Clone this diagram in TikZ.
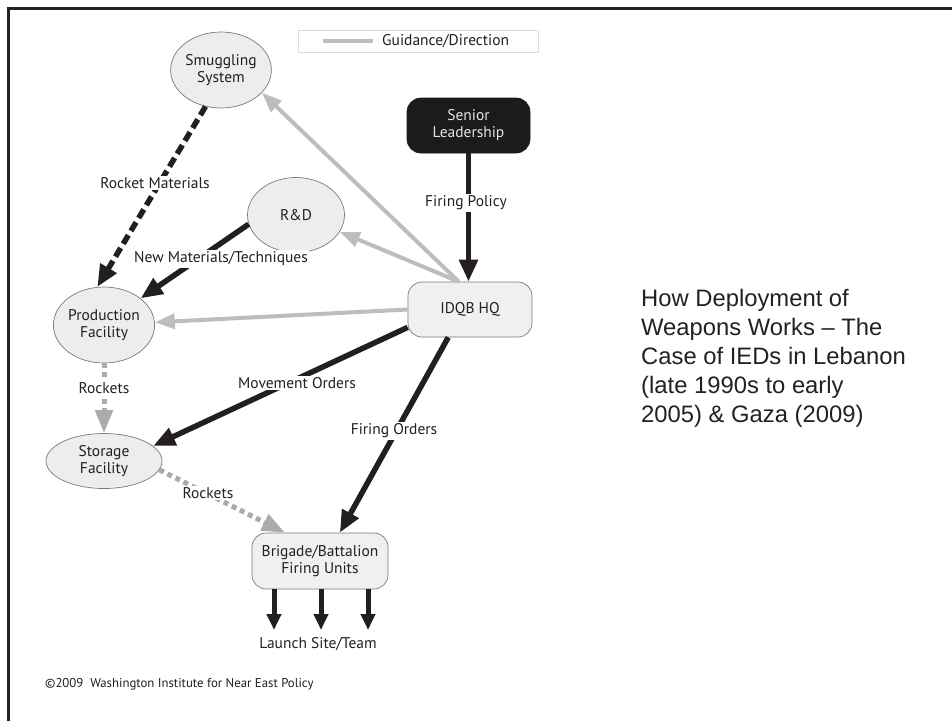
\documentclass[tikz,border=0pt]{standalone}
\usepackage{fontspec}
\setmainfont{PT Sans}
\newfontfamily\titlefont{Liberation Sans}
\usetikzlibrary{arrows.meta,shapes.geometric}
\definecolor{ink}{HTML}{231F20}
\definecolor{guide}{HTML}{BDBDBD}
\definecolor{rock}{HTML}{ABABAB}
\definecolor{ellfill}{HTML}{EDEDED}
\definecolor{boxfill}{HTML}{F0F0F2}
\definecolor{edgegray}{HTML}{7A7A7A}
\definecolor{seniorfill}{HTML}{1B1B1B}
\definecolor{seniortext}{HTML}{E6E6E6}
\definecolor{legborder}{HTML}{DCDCDC}
\definecolor{frame}{HTML}{222222}
\begin{document}
\begin{tikzpicture}[x=1pt,y=-1pt,
  every node/.style={font=\fontsize{15.5}{17}\selectfont, text=ink, align=center},
  oval/.style={ellipse, draw=edgegray, line width=0.7pt, fill=ellfill, inner sep=0pt},
  rbox/.style={rectangle, rounded corners=14pt, draw=edgegray, line width=0.7pt, fill=boxfill, inner sep=0pt},
  blk/.style={line width=5.5pt, draw=ink, -{Triangle[length=22pt,width=18pt]}},
  blkdash/.style={blk, dash pattern=on 10pt off 5pt},
  guideline/.style={line width=4pt, draw=guide, -{Triangle[length=20pt,width=15pt]}},
  guideplain/.style={line width=4.5pt, draw=guide},
  rockdash/.style={line width=5pt, draw=rock, dash pattern=on 5pt off 4pt, -{Triangle[length=23pt,width=17pt]}},
  lbl/.style={fill=white, inner sep=1.5pt},
  launch/.style={line width=5pt, draw=ink, -{Triangle[length=16pt,width=14pt]}}
]
\useasboundingbox (0,0) rectangle (952,721);
\fill[white] (0,0) rectangle (952,721);
% frame
\coordinate (f1) at (8,721);
\coordinate (f2) at (8,8);
\coordinate (f3) at (952,8);
\draw[frame, line width=3pt] (f1) -- (f2) -- (f3);

% legend
\node[rectangle, draw=legborder, line width=0.8pt, fill=white, minimum width=240pt, minimum height=22pt] (legend) at (418,41) {};
\coordinate (lg1) at (323,41);
\coordinate (lg2) at (373,41);
\draw[guideplain] (lg1) -- (lg2);
\node[anchor=west, inner sep=0pt] (lgtext) at (382,41.5) {Guidance/Direction};

% nodes
\node[oval, minimum width=98pt, minimum height=76pt] (smug) at (221,70) {Smuggling\\System};
\node[oval, minimum width=97pt, minimum height=75pt] (rd) at (296,215) {R\&D};
\node[oval, minimum width=98pt, minimum height=76pt] (prod) at (104,325) {Production\\Facility};
\node[oval, minimum width=116pt, minimum height=55pt] (stor) at (104,461) {Storage\\Facility};
\node[rbox, fill=seniorfill, draw=seniorfill, text=seniortext, minimum width=123pt, minimum height=55pt] (senior) at (468.5,125.5) {Senior\\Leadership};
\node[rbox, minimum width=124pt, minimum height=55pt] (idqb) at (470,309.5) {IDQB HQ};
\node[rbox, minimum width=136pt, minimum height=56pt] (brig) at (320,561) {Brigade/Battalion\\Firing Units};

% connectors
\draw[blkdash] (smug.247) -- (prod.100);
\draw[blk] (rd.191) -- (prod.36);
\draw[guideline] (idqb.112) -- (smug.331);
\draw[guideline] (idqb.112) -- (rd.339);
\draw[guideline] (idqb.west) -- (prod.3);
\draw[blk] (senior.south) -- (senior.south |- idqb.north);
\draw[blk] (idqb.196) -- (stor.17);
\draw[blk] (idqb.232) -- (brig.55);
\draw[rockdash] (prod.south) -- (stor.north);
\draw[rockdash] (stor.351) -- (brig.141);

\coordinate (l1) at (274,630);
\coordinate (l2) at (321,630);
\coordinate (l3) at (368,630);
\draw[launch] (l1 |- brig.south) -- (l1);
\draw[launch] (l2 |- brig.south) -- (l2);
\draw[launch] (l3 |- brig.south) -- (l3);

% connector labels
\node[lbl] (lrm) at (155,183) {Rocket Materials};
\node[lbl] (lnm) at (221,259) {New Materials/Techniques};
\node[lbl] (lfp) at (466,203) {Firing Policy};
\node[lbl] (lmo) at (297,383) {Movement Orders};
\node[lbl] (lfo) at (394,431) {Firing Orders};
\node[lbl] (lr1) at (104,388) {Rockets};
\node[lbl] (lr2) at (208,493) {Rockets};
\node[inner sep=0pt] (lst) at (318,644) {Launch Site/Team};

% title
\node[anchor=north west, align=left, inner sep=0pt, text=frame,
  font=\titlefont\fontsize{23.8}{29}\selectfont] (title) at (641,289)
  {How Deployment of\\Weapons Works \textendash{} The\\Case of IEDs in Lebanon\\(late 1990s to early\\2005) \& Gaza (2009)};

% copyright
\node[anchor=west, inner sep=0pt, font=\fontsize{12.8}{14}\selectfont] (copy) at (45,684) {\textcopyright2009\ \ Washington Institute for Near East Policy};
\end{tikzpicture}
\end{document}
